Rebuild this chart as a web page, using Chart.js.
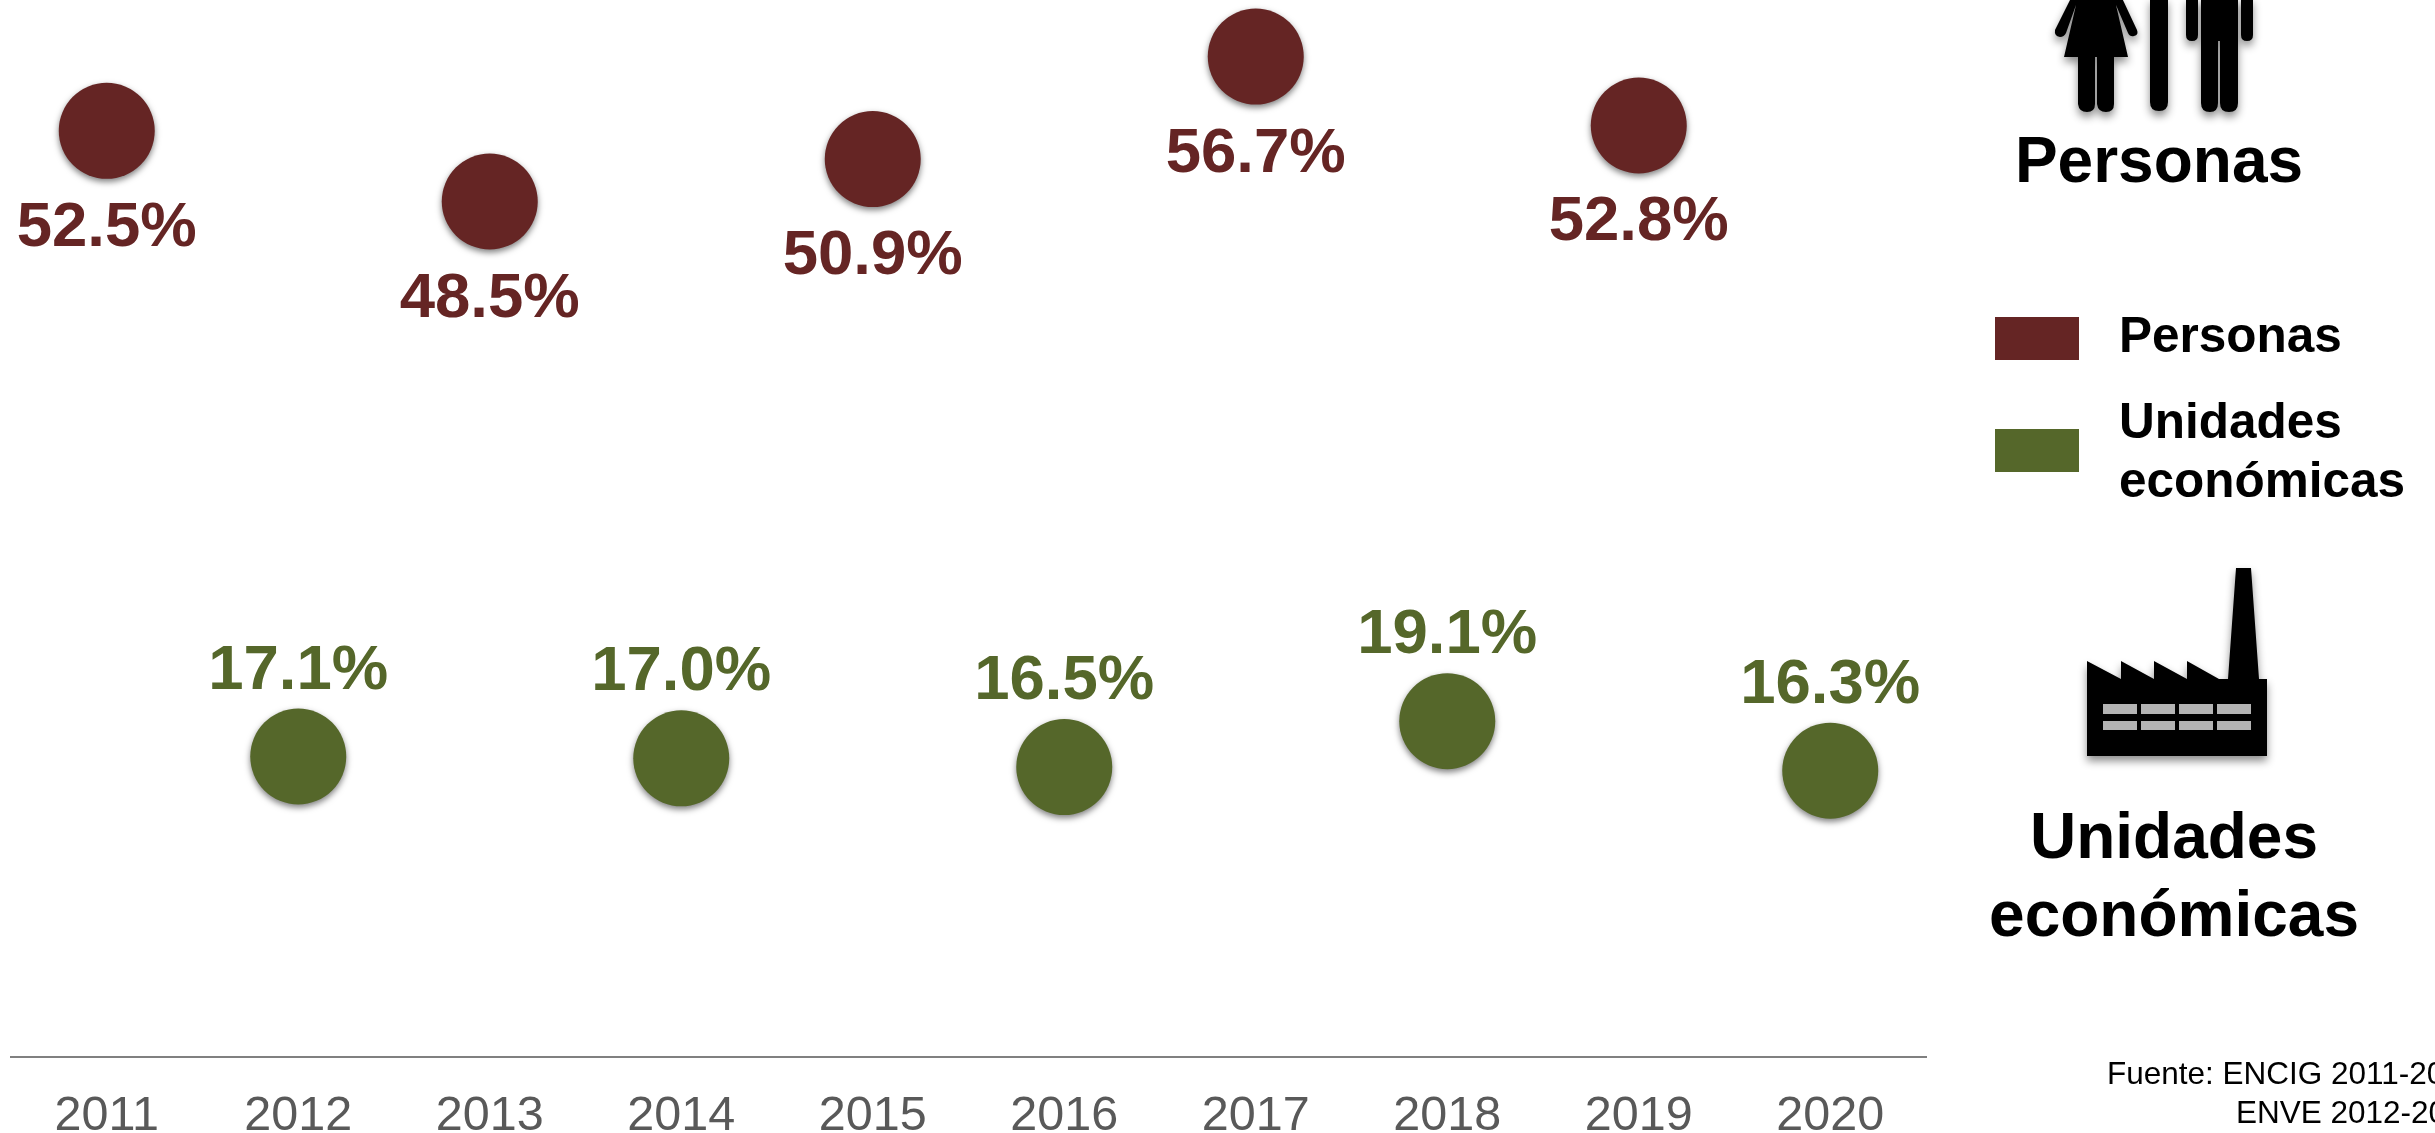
<!DOCTYPE html>
<html lang="es">
<head>
<meta charset="utf-8">
<title>Personas y unidades económicas</title>
<script src="https://cdn.jsdelivr.net/npm/chart.js@4"></script>
<style>
    html, body { margin: 0; padding: 0; background: #fff; }
    body { position: relative; width: 2435px; height: 1133px; overflow: hidden; font-family: "Liberation Sans", Arial, sans-serif; }
    #grafica { position: absolute; left: 0; top: 0; }
    .texto { position: absolute; white-space: nowrap; }
    .titulo { font-weight: bold; font-size: 64px; line-height: 78px; color: #000; text-align: center; }
    .leyenda-texto { font-weight: bold; font-size: 49.5px; line-height: 59px; color: #000; }
    .caja { position: absolute; width: 84px; height: 43px; }
    .fuente { font-size: 31.5px; line-height: 39px; color: #000; }
    svg { position: absolute; left: 0; top: 0; }
    .icono { filter: drop-shadow(0 5px 4px rgba(0, 0, 0, 0.45)); }
</style>
</head>
<body>
<canvas id="grafica" width="2435" height="1133"></canvas>

<!-- Iconos -->
<svg width="2435" height="1133">
    <g class="icono">
        <path d="M2071 -2 L2055 30 Q2054 36 2060 37 Q2064 37 2066 33 L2076 5 L2064 57 L2078 57 L2078 104 Q2079 112 2087 112 Q2095 112 2095 104 L2095 57 L2097 57 L2097 104 Q2098 112 2106 112 Q2114 112 2114 104 L2114 57 L2128 57 L2116 5 L2128 33 Q2130 37 2134 36 Q2139 35 2137 30 L2122 -2 Z" fill="#000"/>
        <path d="M2150 -2 H2168 V102 Q2168 111 2159 111 Q2150 111 2150 102 Z" fill="#000"/>
        <path d="M2186 -2 H2253 V35 Q2253 41 2247 41 Q2241 41 2241 35 V-2 H2238 V103 Q2238 112 2229 112 Q2220 112 2220 103 V41 H2218 V103 Q2218 112 2210 112 Q2201 112 2201 103 V-2 H2198 V35 Q2198 41 2192 41 Q2186 41 2186 35 Z" fill="#000"/>
        <path d="M2087 661 L2121 679 V661 L2154 679 V661 L2187 679 V661 L2219 679 H2228 L2236 568 H2251 L2259 679 H2267 V756 H2087 Z" fill="#000"/>
    </g>
    <g fill="#b3b3b3">
        <rect x="2103" y="704" width="34" height="10"/><rect x="2141" y="704" width="34" height="10"/><rect x="2179" y="704" width="34" height="10"/><rect x="2217" y="704" width="34" height="10"/>
        <rect x="2103" y="721" width="34" height="9"/><rect x="2141" y="721" width="34" height="9"/><rect x="2179" y="721" width="34" height="9"/><rect x="2217" y="721" width="34" height="9"/>
    </g>
</svg>

<!-- Títulos -->
<div class="texto titulo" style="left:2009px; top:121px; width:300px;">Personas</div>
<div class="texto titulo" style="left:1974px; top:797px; width:400px;">Unidades<br>económicas</div>

<!-- Leyenda -->
<div id="leyenda"></div>

<!-- Fuente -->
<div class="texto fuente" style="left:2107px; top:1054px;">Fuente: ENCIG 2011-2020</div>
<div class="texto fuente" style="left:2236px; top:1093px;">ENVE 2012-2020</div>

<script>
// Categorías y series
const anios = ['2011', '2012', '2013', '2014', '2015', '2016', '2017', '2018', '2019', '2020'];
const personas = [52.5, null, 48.5, null, 50.9, null, 56.7, null, 52.8, null];
const unidades = [null, 17.1, null, 17.0, null, 16.5, null, 19.1, null, 16.3];

// Colores
const colorPersonas = '#652524';
const colorUnidades = '#55672a';

// Leyenda hecha a partir de las series
const entradasLeyenda = [
    { lineas: ['Personas'], color: colorPersonas, cajaTop: 317, textoTop: 305 },
    { lineas: ['Unidades', 'económicas'], color: colorUnidades, cajaTop: 429, textoTop: 391 }
];

const leyenda = document.getElementById('leyenda');
entradasLeyenda.forEach(entrada => {
    const caja = document.createElement('div');
    caja.className = 'caja';
    caja.style.left = '1995px';
    caja.style.top = entrada.cajaTop + 'px';
    caja.style.background = entrada.color;
    leyenda.appendChild(caja);

    const texto = document.createElement('div');
    texto.className = 'texto leyenda-texto';
    texto.style.left = '2119px';
    texto.style.top = entrada.textoTop + 'px';
    texto.innerHTML = entrada.lineas.join('<br>');
    leyenda.appendChild(texto);
});

// Etiquetas de valor y sombra de los puntos
const etiquetasValor = {
    id: 'etiquetasValor',
    beforeDatasetDraw(chart) {
        const ctx = chart.ctx;
        ctx.save();
        ctx.shadowColor = 'rgba(0, 0, 0, 0.5)';
        ctx.shadowBlur = 6;
        ctx.shadowOffsetY = 3;
    },
    afterDatasetDraw(chart) {
        chart.ctx.restore();
    },
    afterDatasetsDraw(chart) {
        const ctx = chart.ctx;
        ctx.save();
        ctx.font = 'bold 63.5px "Liberation Sans", Arial, sans-serif';
        ctx.textAlign = 'center';
        ctx.textBaseline = 'alphabetic';
        chart.data.datasets.forEach((dataset, i) => {
            const meta = chart.getDatasetMeta(i);
            ctx.fillStyle = dataset.backgroundColor;
            meta.data.forEach((punto, j) => {
                const valor = dataset.data[j];
                if (valor === null) return;
                ctx.fillText(valor.toFixed(1) + '%', punto.x, punto.y + dataset.desfaseEtiqueta);
            });
        });
        ctx.restore();
    }
};

// Crear la gráfica
new Chart(document.getElementById('grafica').getContext('2d'), {
    type: 'line',
    data: {
        labels: anios,
        datasets: [
            {
                label: 'Personas',
                data: personas,
                backgroundColor: colorPersonas,
                borderColor: colorPersonas,
                showLine: false,
                pointRadius: 48,
                pointBorderWidth: 0,
                clip: false,
                desfaseEtiqueta: 115
            },
            {
                label: 'Unidades económicas',
                data: unidades,
                backgroundColor: colorUnidades,
                borderColor: colorUnidades,
                showLine: false,
                pointRadius: 48,
                pointBorderWidth: 0,
                clip: false,
                desfaseEtiqueta: -68
            }
        ]
    },
    options: {
        responsive: false,
        animation: false,
        layout: { autoPadding: false, padding: { left: 11, right: 509, top: 0, bottom: 0 } },
        plugins: {
            legend: { display: false },
            tooltip: { enabled: false }
        },
        scales: {
            x: {
                offset: true,
                grid: { display: false, drawTicks: false },
                border: { color: '#808080', width: 2 },
                ticks: {
                    color: '#595959',
                    font: { family: '"Liberation Sans", Arial, sans-serif', size: 48.5 },
                    padding: 31,
                    maxRotation: 0,
                    autoSkip: false
                },
                afterFit(escala) { escala.height = 76; }
            },
            y: {
                display: false,
                min: 0.1,
                max: 59.9
            }
        }
    },
    plugins: [etiquetasValor]
});
</script>
</body>
</html>
